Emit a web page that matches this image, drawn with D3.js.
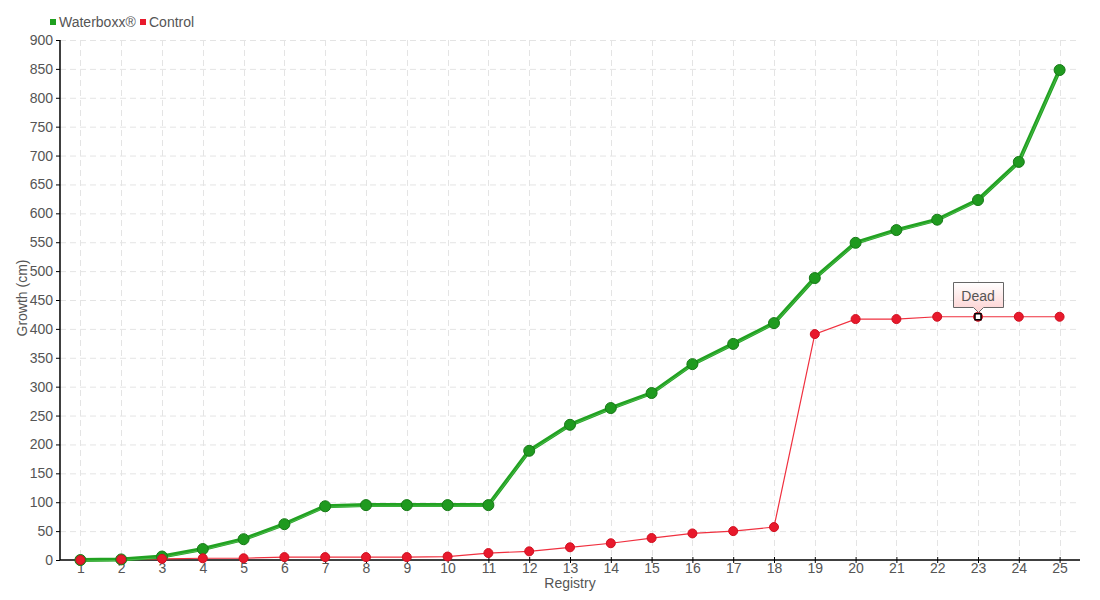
<!DOCTYPE html>
<html>
<head>
<meta charset="utf-8">
<script src="https://cdn.jsdelivr.net/npm/d3@7"></script>
<style>
  body { margin: 0; background: #fff; }
  svg text { font-family: "Liberation Sans", Arial, sans-serif; fill: #555; }
</style>
</head>
<body>
<div id="chart"></div>
<script>
var registry = d3.range(1, 26);
var waterboxx = [0, 1, 6, 19, 36, 62, 93, 95, 95, 95, 95, 189, 234, 263, 289, 339, 374, 410, 488, 549, 571, 589, 623, 689, 848];
var control = [0, 1, 2, 3, 3, 5, 5, 5, 5, 6, 12, 15, 22, 29, 38, 46, 50, 57, 391, 417, 417, 421, 421, 421, 421];
var yTicks = d3.range(0, 901, 50);
var seriesNames = ["Waterboxx®", "Control"];
var annotation = { index: 22, text: "Dead" };

(function() {
var width = 1100, height = 600;
var pLeft = 60, pRight = 1080, pTop = 40, pBottom = 560;

var svg = d3.select("#chart").append("svg")
  .attr("width", width).attr("height", height);

var x = d3.scaleLinear().domain([0.5, 25.5]).range([pLeft, pRight]);
var y = d3.scaleLinear().domain([0, 900]).range([pBottom, pTop]);

// grid
svg.append("g").selectAll("line").data(yTicks.slice(1)).enter().append("line")
  .attr("x1", pLeft).attr("x2", pRight)
  .attr("y1", function(d) { return y(d) + 0.5; }).attr("y2", function(d) { return y(d) + 0.5; })
  .attr("stroke", "#e4e4e4").attr("stroke-dasharray", "6,4");
svg.append("g").selectAll("line").data(registry).enter().append("line")
  .attr("x1", function(d) { return Math.round(x(d)) + 0.5; }).attr("x2", function(d) { return Math.round(x(d)) + 0.5; })
  .attr("y1", pTop).attr("y2", pBottom)
  .attr("stroke", "#e4e4e4").attr("stroke-dasharray", "6,4");

// axes
var yAxis = svg.append("g").attr("transform", "translate(" + pLeft + ",0)")
  .call(d3.axisLeft(y).tickValues(yTicks).tickSize(4).tickPadding(3));
var xAxis = svg.append("g").attr("transform", "translate(0," + pBottom + ")")
  .call(d3.axisBottom(x).tickValues(registry).tickSize(4).tickPadding(-1));
[yAxis, xAxis].forEach(function(a) {
  a.select(".domain").attr("stroke", "#000").attr("stroke-width", 1.5);
  a.selectAll(".tick line").attr("stroke", "#000");
  a.selectAll("text").style("font-size", "14px").attr("fill", "#555");
});
xAxis.select(".domain").attr("d", "M" + pLeft + ",0H" + pRight);
yAxis.select(".domain").attr("d", "M0," + pTop + "V" + pBottom);
xAxis.selectAll(".tick line").attr("y1", -3).attr("y2", 3);

svg.append("text").attr("x", 570).attr("y", 588).attr("text-anchor", "middle")
  .style("font-size", "14px").text("Registry");
svg.append("text").attr("transform", "translate(27,298) rotate(-90)").attr("text-anchor", "middle")
  .style("font-size", "14px").text("Growth (cm)");

var line = d3.line().x(function(d, i) { return x(registry[i]); }).y(function(d) { return y(d); });

// control
svg.append("path").datum(control).attr("d", line)
  .attr("fill", "none").attr("stroke", "#f0303f").attr("stroke-width", 1.2);

// waterboxx
svg.append("path").datum(waterboxx).attr("d", line)
  .attr("fill", "none").attr("stroke", "#22a222").attr("stroke-width", 4);
svg.append("path").datum(waterboxx).attr("d", line)
  .attr("transform", "translate(0,1)")
  .attr("fill", "none").attr("stroke", "#66c866").attr("stroke-width", 1).attr("opacity", 0.6);

svg.append("g").selectAll("circle").data(waterboxx).enter().append("circle")
  .attr("cx", function(d, i) { return x(registry[i]); }).attr("cy", function(d) { return y(d); })
  .attr("r", 5.5).attr("fill", "#1f9a1f").attr("stroke", "#177a17").attr("stroke-width", 1);

svg.append("g").selectAll("circle").data(control).enter().append("circle")
  .attr("cx", function(d, i) { return x(registry[i]); }).attr("cy", function(d) { return y(d); })
  .attr("r", 4.5).attr("fill", "#e8192c").attr("stroke", "#d01020").attr("stroke-width", 1);

// annotation
var ax = x(registry[annotation.index]), ay = y(control[annotation.index]);
var defs = svg.append("defs");
var grad = defs.append("linearGradient").attr("id", "tip").attr("x1", 0).attr("y1", 0).attr("x2", 0).attr("y2", 1);
grad.append("stop").attr("offset", "0%").attr("stop-color", "#ffffff");
grad.append("stop").attr("offset", "100%").attr("stop-color", "#fdd0d0");
var bx = Math.round(ax) - 24.5, bw = 50, bt = Math.round(ay) - 34.5, bh = 25;
svg.append("path")
  .attr("d", "M" + bx + "," + bt + "h" + bw + "v" + bh + "h" + (-(bw / 2 - 5)) + "l-5,5l-5,-5h" + (-(bw / 2 - 5)) + "z")
  .attr("fill", "url(#tip)").attr("stroke", "#666").attr("stroke-width", 1);
svg.append("text").attr("x", ax).attr("y", bt + 18).attr("text-anchor", "middle")
  .style("font-size", "14px").attr("fill", "#444").text(annotation.text);
svg.append("rect").attr("x", ax - 3).attr("y", ay - 3).attr("width", 6).attr("height", 6)
  .attr("fill", "#fff").attr("stroke", "#000").attr("stroke-width", 1.5);

// legend
var legendColors = ["#1fa01f", "#e8192c"];
var lx = [50, 140];
seriesNames.forEach(function(n, i) {
  svg.append("rect").attr("x", lx[i]).attr("y", 19).attr("width", 6).attr("height", 6).attr("fill", legendColors[i]);
  svg.append("text").attr("x", lx[i] + 9).attr("y", 27).style("font-size", "14px").attr("fill", "#444").text(n);
});
})();
</script>
</body>
</html>
